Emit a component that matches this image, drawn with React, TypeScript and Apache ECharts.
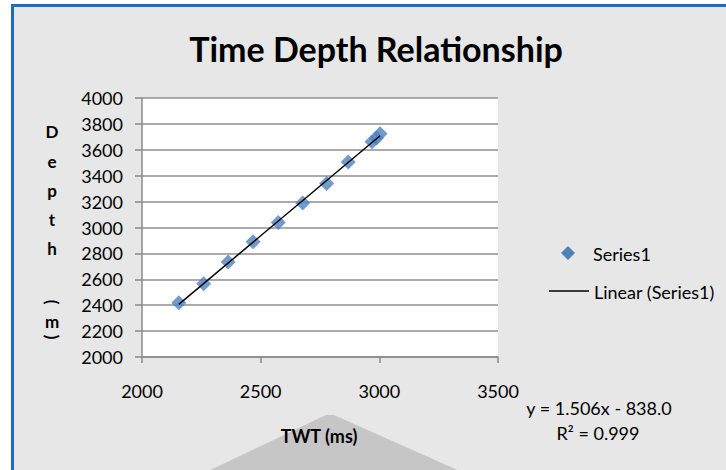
import React, { useEffect, useRef } from "react";
import * as echarts from "echarts";

const twt = [2155, 2260, 2363, 2468, 2574, 2677, 2778, 2869, 2969, 2988, 3003];
const depth = [2418, 2565, 2734, 2889, 3039, 3190, 3340, 3505, 3662, 3692, 3724];
const xTicks = [2000, 2500, 3000, 3500];
const yTicks = [2000, 2200, 2400, 2600, 2800, 3000, 3200, 3400, 3600, 3800, 4000];
const equationText = "y = 1.506x - 838.0";
const r2Text = "R² = 0.999";
const seriesName = "Series1";
const trendName = "Linear (Series1)";
const titleText = "Time Depth Relationship";
const xAxisTitle = "TWT (ms)";
const yAxisLetters = ["D", "e", "p", "t", "h"];

const FONT = "Lato, 'Noto Sans', sans-serif";

function linearFit(xs: number[], ys: number[]) {
  const n = xs.length;
  const mx = xs.reduce((a, b) => a + b, 0) / n;
  const my = ys.reduce((a, b) => a + b, 0) / n;
  let sxy = 0, sxx = 0;
  for (let i = 0; i < n; i++) {
    sxy += (xs[i] - mx) * (ys[i] - my);
    sxx += (xs[i] - mx) * (xs[i] - mx);
  }
  const m = sxy / sxx;
  return { m, b: my - m * mx };
}

export default function App() {
  const ref = useRef<HTMLDivElement>(null);
  useEffect(() => {
    if (!ref.current) return;
    const chart = echarts.init(ref.current, undefined, { renderer: "svg" });
    const fit = linearFit(twt, depth);
    const x0 = Math.min(...twt);
    const x1 = Math.max(...twt);
    const trend = [
      [x0, fit.m * x0 + fit.b],
      [x1, fit.m * x1 + fit.b],
    ];
    const yLetterPos = [131, 161, 190, 219, 248];
    const letterFont = `bold 17px ${FONT}`;
    const graphics: any[] = [
      {
        type: "polygon",
        z: -5,
        shape: { points: [[326, 415], [334, 415], [462, 472], [206, 472]] },
        style: { fill: "#c6c6c6" },
      },
      {
        type: "text",
        x: 376,
        y: 48,
        style: {
          text: titleText,
          font: `bold 34px ${FONT}`,
          fill: "#000",
          align: "center",
          verticalAlign: "middle",
        },
      },
      {
        type: "text",
        x: 319,
        y: 436,
        style: {
          text: xAxisTitle,
          font: `bold 18px ${FONT}`,
          fill: "#000",
          align: "center",
          verticalAlign: "middle",
        },
      },
      ...yAxisLetters.map((ch, i) => ({
        type: "text",
        x: 52,
        y: yLetterPos[i],
        style: {
          text: ch,
          font: letterFont,
          fill: "#000",
          align: "center",
          verticalAlign: "middle",
        },
      })),
      {
        type: "text",
        x: 52,
        y: 302,
        rotation: -Math.PI / 2,
        style: { text: "(", font: letterFont, fill: "#000", align: "center", verticalAlign: "middle" },
      },
      {
        type: "text",
        x: 52,
        y: 321,
        style: { text: "m", font: letterFont, fill: "#000", align: "center", verticalAlign: "middle" },
      },
      {
        type: "text",
        x: 52,
        y: 337,
        rotation: -Math.PI / 2,
        style: { text: ")", font: letterFont, fill: "#000", align: "center", verticalAlign: "middle" },
      },
      {
        type: "polygon",
        shape: { points: [[568, 246], [575, 253], [568, 260], [561, 253]] },
        style: { fill: "#4f81bd" },
      },
      {
        type: "text",
        x: 593,
        y: 254,
        style: { text: seriesName, font: `18px ${FONT}`, fill: "#000", verticalAlign: "middle" },
      },
      {
        type: "line",
        shape: { x1: 549, y1: 291, x2: 589, y2: 291 },
        style: { stroke: "#000", lineWidth: 1.5 },
      },
      {
        type: "text",
        x: 594,
        y: 292,
        style: { text: trendName, font: `18px ${FONT}`, fill: "#000", verticalAlign: "middle" },
      },
      {
        type: "text",
        x: 599,
        y: 408,
        style: { text: equationText, font: `18px ${FONT}`, fill: "#000", align: "center", verticalAlign: "middle" },
      },
      {
        type: "text",
        x: 598,
        y: 433,
        style: { text: r2Text, font: `18px ${FONT}`, fill: "#000", align: "center", verticalAlign: "middle" },
      },
    ];

    chart.setOption({
      animation: false,
      backgroundColor: "transparent",
      textStyle: { fontFamily: FONT },
      grid: {
        left: 142,
        right: 228,
        top: 98,
        bottom: 113,
        show: true,
        backgroundColor: "#ffffff",
        borderWidth: 0,
      },
      xAxis: {
        type: "value",
        min: xTicks[0],
        max: xTicks[xTicks.length - 1],
        interval: 500,
        axisLine: { show: true, lineStyle: { color: "#8a8a8a", width: 1.5 } },
        axisTick: { show: true, length: 6, lineStyle: { color: "#8a8a8a", width: 1.5 } },
        splitLine: { show: false },
        axisLabel: { color: "#000", fontSize: 18, margin: 25, fontFamily: FONT, formatter: (v: number) => String(v) },
      },
      yAxis: {
        type: "value",
        min: yTicks[0],
        max: yTicks[yTicks.length - 1],
        interval: 200,
        axisLine: { show: true, lineStyle: { color: "#8a8a8a", width: 1.5 } },
        axisTick: { show: true, length: 7, lineStyle: { color: "#8a8a8a", width: 1.5 } },
        splitLine: { show: true, lineStyle: { color: "#8f8f8f", width: 1.5 } },
        axisLabel: { color: "#000", fontSize: 18, margin: 19, fontFamily: FONT, formatter: (v: number) => String(v) },
      },
      series: [
        {
          name: seriesName,
          type: "scatter",
          symbol: "diamond",
          symbolSize: 15,
          itemStyle: { color: "#4f81bd" },
          data: twt.map((t, i) => [t, depth[i]]),
          z: 3,
        },
        {
          name: trendName,
          type: "line",
          data: trend,
          symbol: "none",
          lineStyle: { color: "#000", width: 1.5 },
          z: 4,
        },
      ],
      graphic: graphics,
    });
    return () => chart.dispose();
  }, []);

  return (
    <div style={{ position: "fixed", left: 0, top: 0, width: 726, height: 470, background: "#fff", overflow: "hidden" }}>
      <div
        style={{
          position: "absolute",
          left: 11,
          top: 4,
          width: 800,
          height: 600,
          borderTop: "3px solid #1c6dc1",
          borderLeft: "3px solid #1c6dc1",
          background: "#e7e7e7",
        }}
      />
      <div ref={ref} style={{ position: "absolute", left: 0, top: 0, width: 726, height: 470 }} />
    </div>
  );
}
